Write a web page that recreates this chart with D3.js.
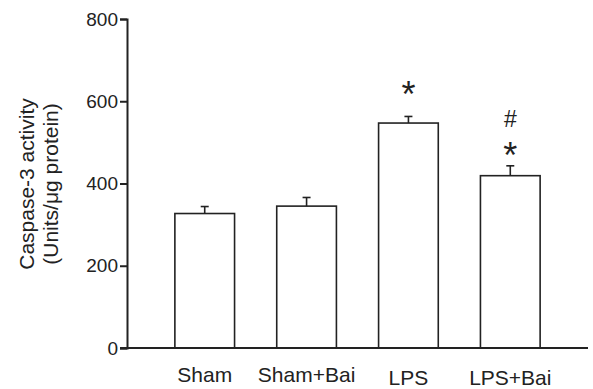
<!DOCTYPE html>
<html>
<head>
<meta charset="utf-8">
<script src="https://cdn.jsdelivr.net/npm/d3@7"></script>
<style>
  body { margin: 0; background: #fff; }
  svg { display: block; font-family: "Liberation Sans", Arial, sans-serif; }
</style>
</head>
<body>
<svg id="chart" width="593" height="389"></svg>
<script>
const groups = ["Sham", "Sham+Bai", "LPS", "LPS+Bai"]
const means = [327, 345, 547, 419]
const errors = [17, 21, 16, 24]
// significance symbols and the value level each one is centred on
const marks = [[], [], ["*"], ["#", "*"]]
const markLevels = [[], [], [637], [557, 489]]
const yTicks = [0, 200, 400, 600, 800]

const data = groups.map(function(g, i){
    return {group: g, mean: means[i], err: errors[i]}
})

const svg = d3.select('#chart')

const y = d3.scaleLinear().domain([0, 800]).range([348, 19])
const x = d3.scaleBand()
    .domain(groups)
    .range([127, 588])
    .paddingInner(0.414)
    .paddingOuter(0.47)

const cx = g => x(g) + x.bandwidth() / 2

// bars
svg.append('g')
    .selectAll('rect')
    .data(data)
    .join('rect')
    .attr('x', d => x(d.group))
    .attr('y', d => y(d.mean))
    .attr('width', x.bandwidth())
    .attr('height', d => y(0) - y(d.mean))
    .attr('fill', '#fff')
    .attr('stroke', '#222')
    .attr('stroke-width', 1.6)

// error bars (upper only)
const eb = svg.append('g').attr('stroke', '#222').attr('stroke-width', 1.6)
eb.selectAll('line.v')
    .data(data)
    .join('line')
    .attr('class', 'v')
    .attr('x1', d => cx(d.group))
    .attr('x2', d => cx(d.group))
    .attr('y1', d => y(d.mean))
    .attr('y2', d => y(d.mean + d.err))
eb.selectAll('line.c')
    .data(data)
    .join('line')
    .attr('class', 'c')
    .attr('x1', d => cx(d.group) - 4)
    .attr('x2', d => cx(d.group) + 4)
    .attr('y1', d => y(d.mean + d.err))
    .attr('y2', d => y(d.mean + d.err))

// significance marks
const sig = []
groups.forEach(function(g, i){
    marks[i].forEach(function(m, j){
        sig.push({group: g, sym: m, level: markLevels[i][j]})
    })
})
svg.append('g')
    .selectAll('text')
    .data(sig)
    .join('text')
    .attr('x', d => cx(d.group))
    .attr('y', d => y(d.level) + (d.sym == '*' ? 21 : 8))
    .attr('text-anchor', 'middle')
    .attr('font-size', d => d.sym == '*' ? 36 : 23)
    .attr('fill', '#222')
    .text(d => d.sym)

// y axis
const yAxis = svg.append('g')
    .attr('transform', 'translate(127,0)')
    .call(d3.axisLeft(y).tickValues(yTicks).tickSize(7).tickPadding(2))
yAxis.select('.domain').attr('stroke', '#222').attr('stroke-width', 2)
yAxis.selectAll('.tick line').attr('stroke', '#222').attr('stroke-width', 2)
yAxis.selectAll('.tick text')
    .attr('font-size', 19)
    .attr('font-family', '"Liberation Sans", Arial, sans-serif')
    .attr('fill', '#222')

// x axis baseline
svg.append('line')
    .attr('x1', 120).attr('x2', 588)
    .attr('y1', y(0)).attr('y2', y(0))
    .attr('stroke', '#222')
    .attr('stroke-width', 2)

// category labels
svg.append('g')
    .selectAll('text')
    .data(groups)
    .join('text')
    .attr('x', d => cx(d))
    .attr('y', (d, i) => i < 2 ? 382 : 385)
    .attr('text-anchor', 'middle')
    .attr('font-size', 21)
    .attr('fill', '#222')
    .text(d => d)

// y title
const title = svg.append('text')
    .attr('transform', 'translate(0,184) rotate(-90)')
    .attr('text-anchor', 'middle')
    .attr('font-size', 21)
    .attr('fill', '#222')
title.append('tspan').attr('x', 0).attr('y', 34).text('Caspase-3 activity')
title.append('tspan').attr('x', 0).attr('y', 58).text('(Units/μg protein)')
</script>
</body>
</html>
